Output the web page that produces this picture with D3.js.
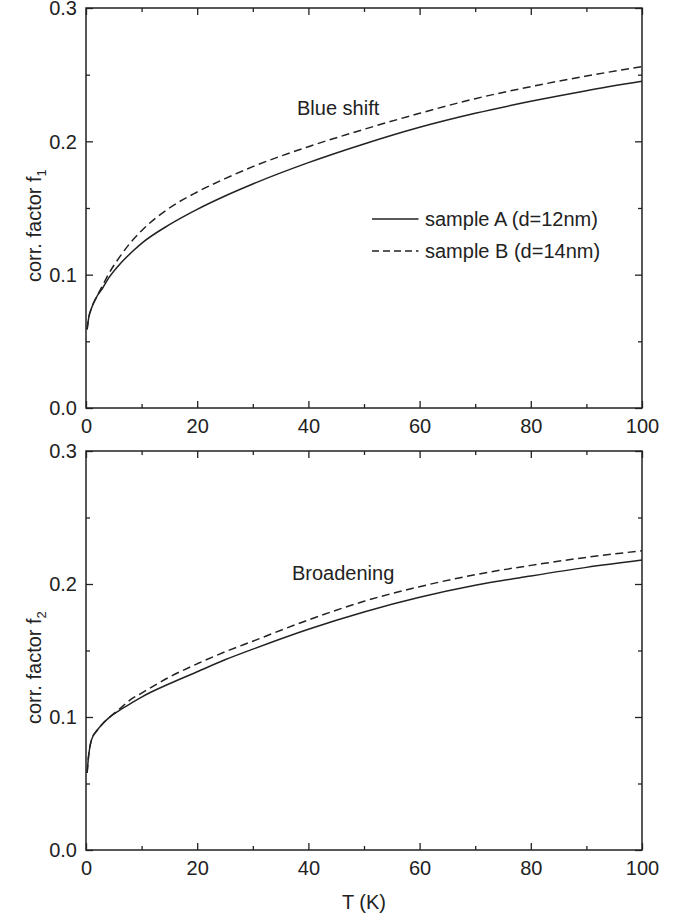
<!DOCTYPE html>
<html>
<head>
<meta charset="utf-8">
<script src="https://cdn.jsdelivr.net/npm/d3@7"></script>
<style>
  html, body { margin: 0; padding: 0; background: #fff; }
  svg { display: block; font-family: "Liberation Sans", Arial, Helvetica, sans-serif; }
</style>
</head>
<body>
<svg id="chart" width="688" height="919"></svg>
<script>
// ---- data ----
const T = [0.2, 0.5, 1, 2, 3, 4, 6, 8, 10, 15, 20, 25, 30, 40, 50, 60, 70, 80, 90, 100];
const f1A = [0.059, 0.068, 0.075, 0.084, 0.090, 0.097, 0.1075, 0.116, 0.1235, 0.1375, 0.149, 0.159, 0.168, 0.184, 0.198, 0.2105, 0.221, 0.230, 0.238, 0.245];
const f1B = [0.059, 0.068, 0.075, 0.084, 0.092, 0.100, 0.113, 0.124, 0.133, 0.150, 0.162, 0.172, 0.181, 0.196, 0.209, 0.221, 0.232, 0.241, 0.249, 0.256];
const f2A = [0.058, 0.072, 0.083, 0.090, 0.095, 0.099, 0.105, 0.110, 0.115, 0.125, 0.134, 0.143, 0.151, 0.166, 0.179, 0.190, 0.199, 0.206, 0.2125, 0.218];
const f2B = [0.058, 0.072, 0.083, 0.090, 0.095, 0.099, 0.106, 0.113, 0.118, 0.130, 0.140, 0.149, 0.157, 0.173, 0.187, 0.198, 0.207, 0.214, 0.220, 0.225];
const seriesNames = ["sample A (d=12nm)", "sample B (d=14nm)"];
const panelLabels = ["Blue shift", "Broadening"];
const yLabelSubs = ["1", "2"];
const xMajorTicks = [0, 20, 40, 60, 80, 100];
const xMinorTicks = [10, 30, 50, 70, 90];
const yMajorTicks = [0.0, 0.1, 0.2, 0.3];
const yMinorTicks = [0.05, 0.15, 0.25];

// ---- layout ----
const svg = d3.select("#chart");
const ink = "#222";
const X0 = 86, X1 = 642;
const panels = [
  { top: 8, bottom: 408, A: f1A, B: f1B, label: panelLabels[0], sub: yLabelSubs[0], labelPos: [297, 115], legend: true },
  { top: 451, bottom: 850, A: f2A, B: f2B, label: panelLabels[1], sub: yLabelSubs[1], labelPos: [292, 580], legend: false }
];

const x = d3.scaleLinear().domain([0, 100]).range([X0, X1]);

panels.forEach((p, i) => {
  const y = d3.scaleLinear().domain([0, 0.3]).range([p.bottom, p.top]);
  const g = svg.append("g");

  // axes with inward ticks
  const mk = (axisFn, scale, ticks, size, tr, labels) => {
    const a = axisFn(scale).tickValues(ticks).tickSize(size).tickPadding(0);
    if (!labels) a.tickFormat("");
    const ag = g.append("g").attr("transform", tr).call(a);
    ag.select(".domain").remove();
    ag.selectAll("line").attr("stroke", ink).attr("stroke-width", 1.3);
    return ag;
  };
  // bottom
  const bx = mk(d3.axisBottom, x, xMajorTicks, -7, `translate(0,${p.bottom})`, true);
  bx.selectAll("text").attr("y", 25).attr("dy", 0).attr("font-size", 20).attr("fill", ink)
    .attr("font-family", "Liberation Sans, Arial, sans-serif");
  mk(d3.axisBottom, x, xMinorTicks, -4, `translate(0,${p.bottom})`, false);
  // top
  mk(d3.axisTop, x, xMajorTicks, -7, `translate(0,${p.top})`, false);
  mk(d3.axisTop, x, xMinorTicks, -4, `translate(0,${p.top})`, false);
  // left
  const ly = mk(d3.axisLeft, y, yMajorTicks, -7, `translate(${X0},0)`, true);
  ly.selectAll("text").attr("x", -9).attr("dy", "0.34em").attr("font-size", 20).attr("fill", ink)
    .attr("font-family", "Liberation Sans, Arial, sans-serif")
    .text(d => d3.format(".1f")(d));
  mk(d3.axisLeft, y, yMinorTicks, -4, `translate(${X0},0)`, false);
  // right
  mk(d3.axisRight, y, yMajorTicks, -7, `translate(${X1},0)`, false);
  mk(d3.axisRight, y, yMinorTicks, -4, `translate(${X1},0)`, false);

  // frame
  g.append("rect").attr("x", X0).attr("y", p.top).attr("width", X1 - X0).attr("height", p.bottom - p.top)
    .attr("fill", "none").attr("stroke", ink).attr("stroke-width", 1.5);

  // curves
  const line = d3.line().x((d, k) => x(T[k])).y(d => y(d)).curve(d3.curveMonotoneX);
  g.append("path").datum(p.A).attr("d", line).attr("fill", "none").attr("stroke", ink).attr("stroke-width", 1.5);
  g.append("path").datum(p.B).attr("d", line).attr("fill", "none").attr("stroke", ink).attr("stroke-width", 1.5)
    .attr("stroke-dasharray", "8,4.5");

  // panel label
  g.append("text").attr("x", p.labelPos[0]).attr("y", p.labelPos[1]).attr("font-size", 20).attr("fill", ink)
    .text(p.label);

  // y label
  const yl = g.append("text")
    .attr("transform", `translate(41,${p.bottom - 126}) rotate(-90)`)
    .attr("font-size", 20).attr("fill", ink);
  yl.append("tspan").text("corr. factor f");
  yl.append("tspan").attr("font-size", 13).attr("dy", 5).text(p.sub);

  // legend
  if (p.legend) {
    const items = [{ name: seriesNames[0], dash: null, ly: 219 }, { name: seriesNames[1], dash: "7,4", ly: 251 }];
    items.forEach(it => {
      g.append("line").attr("x1", 372).attr("x2", 418.5).attr("y1", it.ly).attr("y2", it.ly)
        .attr("stroke", ink).attr("stroke-width", 1.5).attr("stroke-dasharray", it.dash);
      g.append("text").attr("x", 425).attr("y", it.ly + 7).attr("font-size", 20).attr("fill", ink).text(it.name);
    });
  }
});

// x label
svg.append("text").attr("x", (X0 + X1) / 2).attr("y", 909).attr("text-anchor", "middle")
  .attr("font-size", 20).attr("fill", ink).text("T (K)");
</script>
</body>
</html>
